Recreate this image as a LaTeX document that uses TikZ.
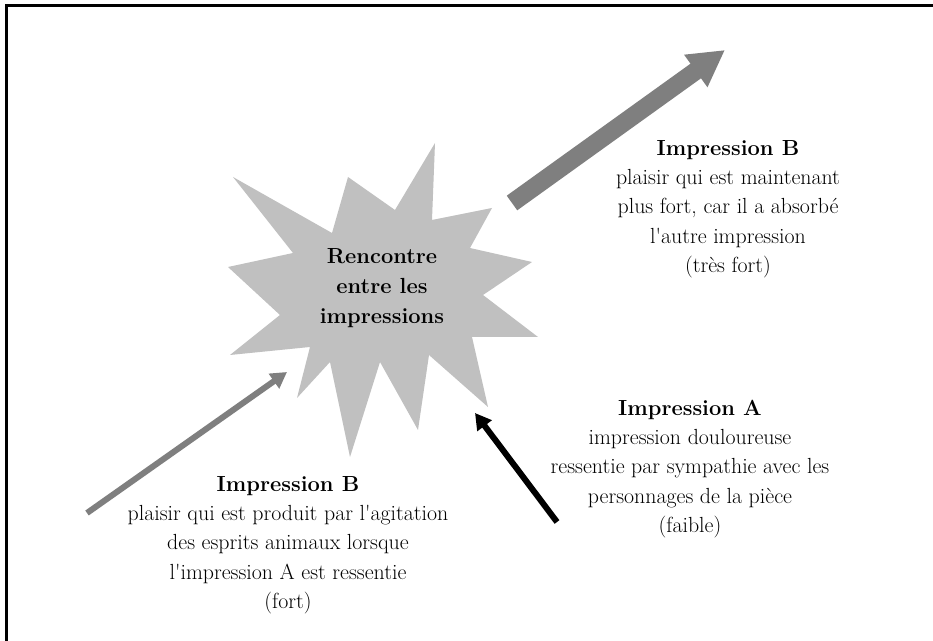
\documentclass[tikz,border=0pt]{standalone}
\usepackage{tikz}
\usetikzlibrary{arrows.meta}
\definecolor{burstgray}{RGB}{192,192,192}
\definecolor{arrowgray}{RGB}{127,127,127}

\begin{document}
\begin{tikzpicture}[x=0.75pt,y=-0.75pt,
  txt/.style={align=center,inner sep=0pt,font=\fontsize{16.4}{22}\selectfont},
  fatarrow/.style={arrowgray,line width=13.5pt,-{Triangle[length=27pt,width=28pt]}},
  thinarrow/.style={line width=4.5pt,-{Triangle[length=12pt,width=13pt]}}]
  \clip (0,0) rectangle (933,641);
  \fill[white] (0,0) rectangle (933,641);
  \draw[line width=2.25pt] (6.5,660) |- (950,5.5);

  % the burst
  \fill[burstgray] (233,177) -- (332,233) -- (348,177) -- (395,210) -- (435,143)
    -- (432,220) -- (492,208) -- (470,248) -- (532,262) -- (483,295) -- (538,337)
    -- (472,337) -- (488,407) -- (429,355) -- (418,430) -- (380,362) -- (350,457)
    -- (330,362) -- (297,398) -- (310,347) -- (230,355) -- (280,315) -- (228,267)
    -- (293,253) -- cycle;
  \node[txt,font=\fontsize{16.4}{22.5}\selectfont\bfseries] (meet) at (382,288)
    {Rencontre\\entre les\\impressions};

  \node[txt] (strongB) at (728,209) {{\bfseries Impression B}\\plaisir qui est maintenant\\
    plus fort, car il a absorb\'e\\l\textquotesingle autre impression\\(tr\`es fort)};
  \node[txt] (weakA) at (690,469) {{\bfseries Impression A}\\impression douloureuse\\
    ressentie par sympathie avec les\\personnages de la pi\`ece\\(faible)};
  \node[txt] (fairB) at (288,545) {{\bfseries Impression B}\\plaisir qui est produit par
    l\textquotesingle agitation\\des esprits animaux lorsque\\l\textquotesingle impression A
    est ressentie\\(fort)};

  \coordinate (outS) at (512,203);
  \coordinate (outE) at (725,50);
  \coordinate (inBS) at (87,513);
  \coordinate (inBE) at (287,372);
  \coordinate (inAS) at (557,522);
  \coordinate (inAE) at (475,413);

  \draw[fatarrow] (outS) -- (outE);
  \draw[thinarrow,arrowgray] (inBS) -- (inBE);
  \draw[thinarrow,black] (inAS) -- (inAE);
\end{tikzpicture}
\end{document}
